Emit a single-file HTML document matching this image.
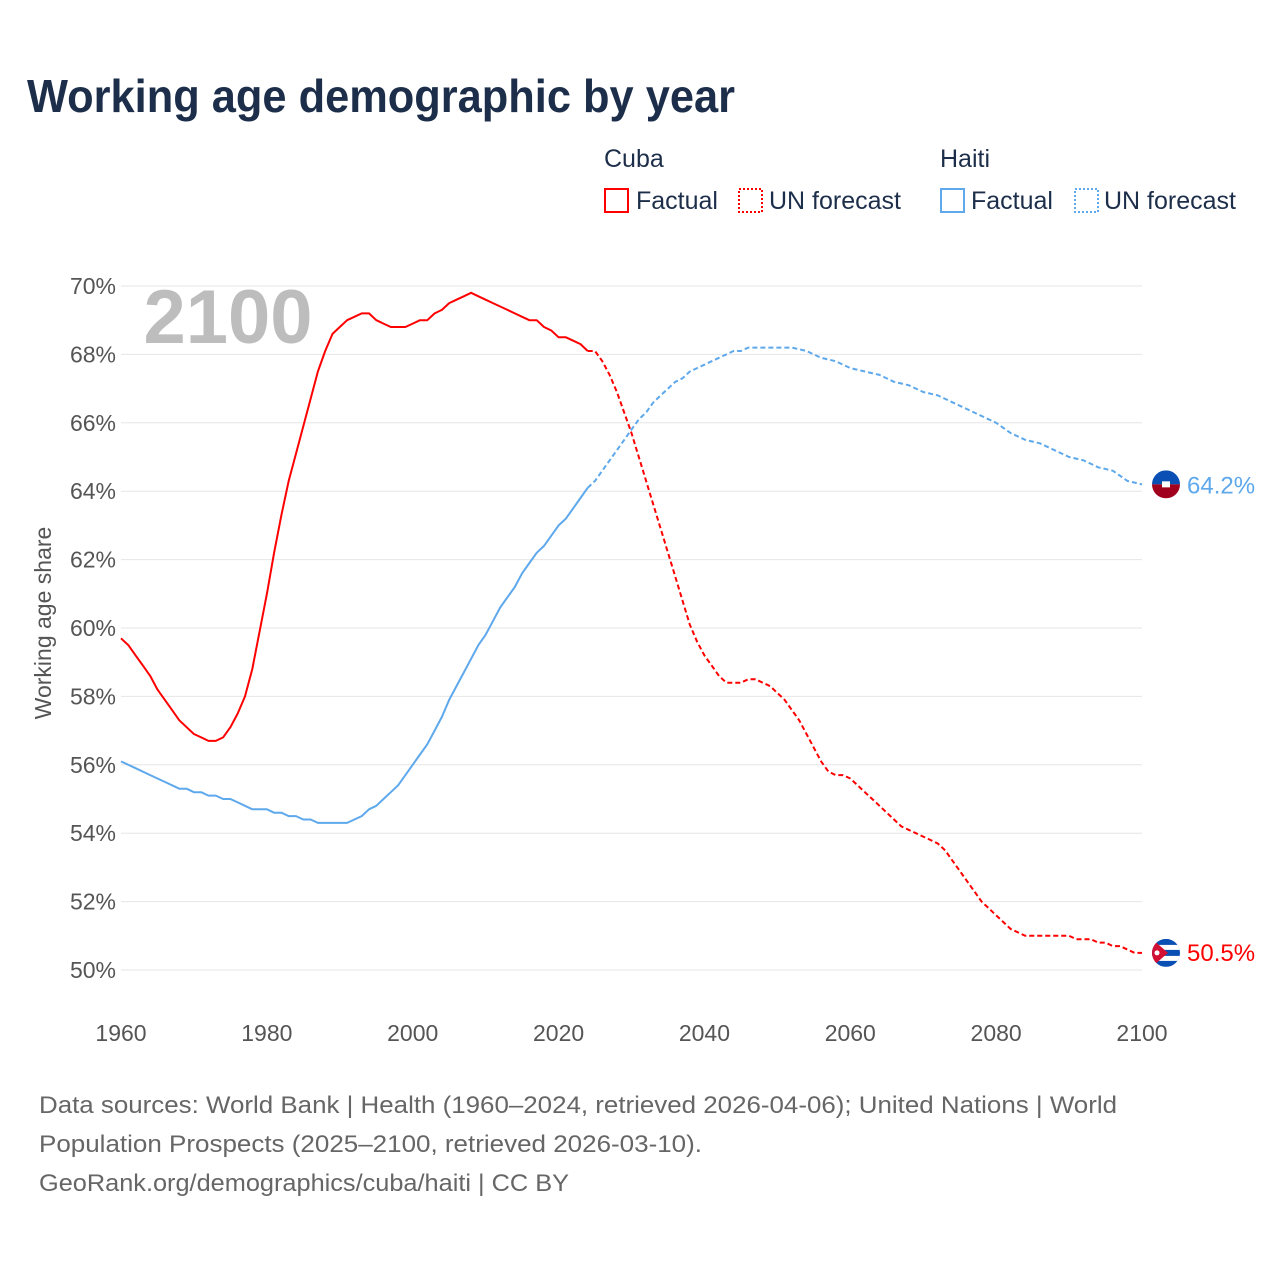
<!DOCTYPE html>
<html><head><meta charset="utf-8">
<style>
body{margin:0;background:#fff;font-family:"Liberation Sans",sans-serif;}
#wrap{position:relative;width:1280px;height:1280px;overflow:hidden;background:#fff;}
</style></head>
<body>
<div id="wrap">
<svg id="chart" width="1280" height="1280" viewBox="0 0 1280 1280" font-family="Liberation Sans, sans-serif">
  <text x="27" y="112" font-size="46" font-weight="bold" fill="#1c2e4a" textLength="708" lengthAdjust="spacingAndGlyphs">Working age demographic by year</text>
  <g font-size="25" fill="#1c2e4a">
    <text x="604" y="167">Cuba</text>
    <g><rect x="605" y="189" width="23" height="23" fill="none" stroke="#ff0000" stroke-width="2"/><text x="636" y="209">Factual</text></g>
    <g><rect x="739" y="189" width="23" height="23" fill="none" stroke="#ff0000" stroke-width="2" stroke-dasharray="2,2"/><text x="769" y="209">UN forecast</text></g>
    <text x="940" y="167">Haiti</text>
    <g><rect x="941" y="189" width="23" height="23" fill="none" stroke="#5ea8ec" stroke-width="2"/><text x="971" y="209">Factual</text></g>
    <g><rect x="1075" y="189" width="23" height="23" fill="none" stroke="#5ea8ec" stroke-width="2" stroke-dasharray="2,2"/><text x="1104" y="209">UN forecast</text></g>
  </g>
  <g id="grid"></g>
  <g id="yticks" font-size="23" fill="#555"></g>
  <g id="xticks" font-size="23" fill="#555"></g>
  <text x="228" y="343" font-size="76" font-weight="bold" fill="#bdbdbd" text-anchor="middle">2100</text>
  <text transform="translate(51,623) rotate(-90)" font-size="23" fill="#555" text-anchor="middle">Working age share</text>
  <g id="series"></g>
  <g id="ends"></g>
  <g font-size="24" fill="#666">
    <text x="39" y="1113" textLength="1078" lengthAdjust="spacingAndGlyphs">Data sources: World Bank | Health (1960–2024, retrieved 2026-04-06); United Nations | World</text>
    <text x="39" y="1152" textLength="663" lengthAdjust="spacingAndGlyphs">Population Prospects (2025–2100, retrieved 2026-03-10).</text>
    <text x="39" y="1191" textLength="530" lengthAdjust="spacingAndGlyphs">GeoRank.org/demographics/cuba/haiti | CC BY</text>
  </g>
</svg>
</div>
<script>
const yTickValues=[50,52,54,56,58,60,62,64,66,68,70];
const xTickValues=[1960,1980,2000,2020,2040,2060,2080,2100];
const cubaFactYears=[1960,1961,1962,1963,1964,1965,1966,1967,1968,1969,1970,1971,1972,1973,1974,1975,1976,1977,1978,1979,1980,1981,1982,1983,1984,1985,1986,1987,1988,1989,1990,1991,1992,1993,1994,1995,1996,1997,1998,1999,2000,2001,2002,2003,2004,2005,2006,2007,2008,2009,2010,2011,2012,2013,2014,2015,2016,2017,2018,2019,2020,2021,2022,2023,2024];
const cubaFact=[59.7,59.5,59.2,58.9,58.6,58.2,57.9,57.6,57.3,57.1,56.9,56.8,56.7,56.7,56.8,57.1,57.5,58.0,58.8,59.9,61.0,62.2,63.3,64.3,65.1,65.9,66.7,67.5,68.1,68.6,68.8,69.0,69.1,69.2,69.2,69.0,68.9,68.8,68.8,68.8,68.9,69.0,69.0,69.2,69.3,69.5,69.6,69.7,69.8,69.7,69.6,69.5,69.4,69.3,69.2,69.1,69.0,69.0,68.8,68.7,68.5,68.5,68.4,68.3,68.1];
const cubaFcYears=[2024,2025,2026,2027,2028,2029,2030,2031,2032,2033,2034,2035,2036,2037,2038,2039,2040,2041,2042,2043,2044,2045,2046,2047,2048,2049,2050,2051,2052,2053,2054,2055,2056,2057,2058,2059,2060,2061,2062,2063,2064,2065,2066,2067,2068,2069,2070,2071,2072,2073,2074,2075,2076,2077,2078,2079,2080,2081,2082,2083,2084,2085,2086,2087,2088,2089,2090,2091,2092,2093,2094,2095,2096,2097,2098,2099,2100];
const cubaFc=[68.1,68.1,67.8,67.4,66.9,66.3,65.7,65.0,64.3,63.6,62.9,62.2,61.5,60.8,60.1,59.6,59.2,58.9,58.6,58.4,58.4,58.4,58.5,58.5,58.4,58.3,58.1,57.9,57.6,57.3,56.9,56.5,56.1,55.8,55.7,55.7,55.6,55.4,55.2,55.0,54.8,54.6,54.4,54.2,54.1,54.0,53.9,53.8,53.7,53.5,53.2,52.9,52.6,52.3,52.0,51.8,51.6,51.4,51.2,51.1,51.0,51.0,51.0,51.0,51.0,51.0,51.0,50.9,50.9,50.9,50.8,50.8,50.7,50.7,50.6,50.5,50.5];
const haitiFactYears=[1960,1962,1964,1966,1968,1969,1970,1971,1972,1973,1974,1975,1976,1977,1978,1979,1980,1981,1982,1983,1984,1985,1986,1987,1988,1990,1991,1992,1993,1994,1995,1996,1997,1998,1999,2000,2001,2002,2003,2004,2005,2006,2007,2008,2009,2010,2011,2012,2013,2014,2015,2016,2017,2018,2019,2020,2021,2022,2023,2024];
const haitiFact=[56.1,55.9,55.7,55.5,55.3,55.3,55.2,55.2,55.1,55.1,55.0,55.0,54.9,54.8,54.7,54.7,54.7,54.6,54.6,54.5,54.5,54.4,54.4,54.3,54.3,54.3,54.3,54.4,54.5,54.7,54.8,55.0,55.2,55.4,55.7,56.0,56.3,56.6,57.0,57.4,57.9,58.3,58.7,59.1,59.5,59.8,60.2,60.6,60.9,61.2,61.6,61.9,62.2,62.4,62.7,63.0,63.2,63.5,63.8,64.1];
const haitiFcYears=[2024,2025,2026,2027,2028,2029,2030,2031,2032,2033,2034,2035,2036,2037,2038,2040,2042,2044,2045,2046,2048,2050,2052,2054,2056,2058,2060,2062,2064,2066,2068,2070,2072,2074,2076,2078,2080,2082,2084,2086,2088,2090,2092,2094,2096,2098,2100];
const haitiFc=[64.1,64.3,64.6,64.9,65.2,65.5,65.8,66.1,66.3,66.6,66.8,67.0,67.2,67.3,67.5,67.7,67.9,68.1,68.1,68.2,68.2,68.2,68.2,68.1,67.9,67.8,67.6,67.5,67.4,67.2,67.1,66.9,66.8,66.6,66.4,66.2,66.0,65.7,65.5,65.4,65.2,65.0,64.9,64.7,64.6,64.3,64.2];

const NS='http://www.w3.org/2000/svg';
const X0=121,X1=1142,Y0=970,Y1=286;
function xs(y){return X0+(y-1960)*(X1-X0)/140;}
function ys(v){return Y0-(v-50)*(Y0-Y1)/20;}
function mk(tag,attrs,parent){const e=document.createElementNS(NS,tag);for(const k in attrs)e.setAttribute(k,attrs[k]);parent.appendChild(e);return e;}
const grid=document.getElementById('grid'),yt=document.getElementById('yticks'),xt=document.getElementById('xticks');
yTickValues.forEach(v=>{
  const l=mk('line',{x1:X0,x2:X1,y1:ys(v),y2:ys(v),stroke:'#e6e6e6','stroke-width':1},grid);
  
  
  const t=mk('text',{x:116,y:ys(v)+8,'text-anchor':'end'},yt);
  t.textContent=v+'%';
  
  
});
xTickValues.forEach(v=>{
  const t=mk('text',{x:xs(v),y:1041,'text-anchor':'middle'},xt);
  t.textContent=v;
  
  
});
const ser=document.getElementById('series');
function line(years,vals,color,dash,name){
  const d=years.map((y,i)=>(i?'L':'M')+xs(y).toFixed(1)+','+ys(vals[i]).toFixed(1)).join(' ');
  const p=mk('path',{d:d,fill:'none',stroke:color,'stroke-width':2,'stroke-linejoin':'round'},ser);
  if(dash)p.setAttribute('stroke-dasharray','5,3');
  
  
}
line(cubaFactYears,cubaFact,'#ff0000',false,'cuba-factual-line');
line(cubaFcYears,cubaFc,'#ff0000',true,'cuba-forecast-line');
line(haitiFactYears,haitiFact,'#5ea8ec',false,'haiti-factual-line');
line(haitiFcYears,haitiFc,'#5ea8ec',true,'haiti-forecast-line');

const ends=document.getElementById('ends');
const defs=mk('defs',{},ends);
const hv=haitiFc[haitiFc.length-1], cv=cubaFc[cubaFc.length-1];
const hy=ys(hv), cy=ys(cv), fx=1166;
const chp=mk('clipPath',{id:'ch'},defs);
mk('circle',{cx:fx,cy:hy,r:14},chp);
const hg=mk('g',{'clip-path':'url(#ch)'},ends);


mk('rect',{x:fx-14,y:hy-14,width:28,height:14,fill:'#0a4fb3'},hg);
mk('rect',{x:fx-14,y:hy,width:28,height:14,fill:'#a0001e'},hg);
mk('rect',{x:fx-4,y:hy-3,width:8,height:6,fill:'#fff'},hg);
const hl=mk('text',{x:1187,y:hy+9,'font-size':24,fill:'#5ea8ec'},ends);
hl.textContent=hv.toFixed(1)+'%';


const cc=mk('clipPath',{id:'cc'},defs);
mk('circle',{cx:fx,cy:cy,r:14},cc);
const cg=mk('g',{'clip-path':'url(#cc)'},ends);


mk('rect',{x:fx-14,y:cy-14,width:28,height:28,fill:'#0a4fb3'},cg);
mk('rect',{x:fx-14,y:cy-8,width:28,height:5,fill:'#fff'},cg);
mk('rect',{x:fx-14,y:cy+3,width:28,height:5,fill:'#fff'},cg);
mk('polygon',{points:(fx-14)+','+(cy-14)+' '+(fx+2)+','+cy+' '+(fx-14)+','+(cy+14),fill:'#d21034'},cg);
mk('circle',{cx:fx-9,cy:cy,r:2.5,fill:'#fff'},cg);
const cl=mk('text',{x:1187,y:cy+8,'font-size':24,fill:'#ff0000'},ends);
cl.textContent=cv.toFixed(1)+'%';


</script>
</body></html>
